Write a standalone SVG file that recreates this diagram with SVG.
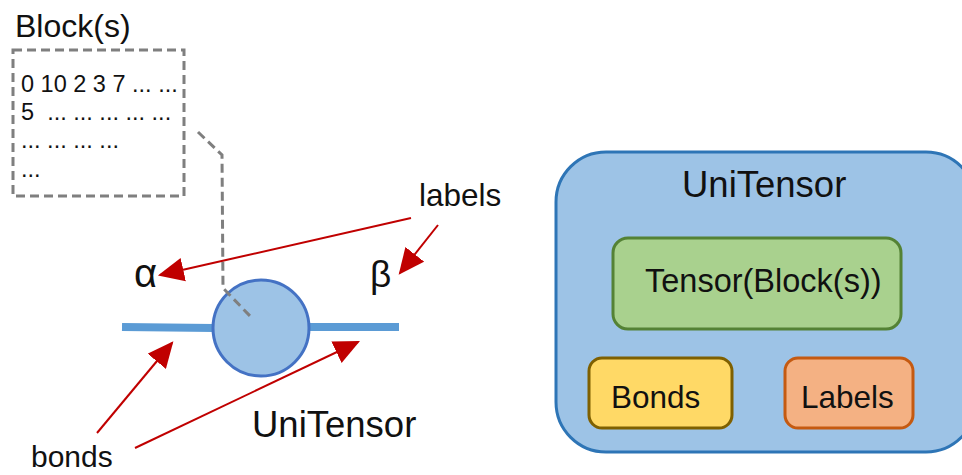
<svg xmlns="http://www.w3.org/2000/svg" width="962" height="475" viewBox="0 0 962 475">
<style>
text { font-family: "Liberation Sans", Arial, sans-serif; fill: #111; }
.t31 { font-size: 31.5px; }
.big { font-size: 36.5px; }
.blk { font-size: 23.5px; white-space: pre; }
.red { stroke: #c00000; stroke-width: 2; fill: none; }
.dash { stroke: #7f7f7f; stroke-width: 3; fill: none; stroke-dasharray: 9 5; }
.bond { stroke: #5b9bd5; stroke-width: 8; fill: none; }
</style>
<defs>
<marker id="ahL" viewBox="0 0 12 11" refX="11" refY="5.5" markerWidth="26" markerHeight="24" markerUnits="userSpaceOnUse" orient="auto">
<path d="M0,0 L12,5.5 L0,11 z" fill="#c00000"/>
</marker>
</defs>

<g id="block">
<text x="15" y="37" style="font-size:32px">Block(s)</text>
<rect x="13" y="50" width="171" height="146" class="dash"/>
<text class="blk" x="21" y="92">0 10 2 3 7 ... ...</text>
<text class="blk" x="21" y="120" xml:space="preserve">5  ... ... ... ... ...</text>
<text class="blk" x="21" y="148">... ... ... ...</text>
<text class="blk" x="21" y="177">...</text>
</g>

<g id="tensor">
<line class="bond" x1="122" y1="327" x2="214" y2="328"/>
<line class="bond" x1="308" y1="327" x2="399" y2="327"/>
<circle cx="261" cy="328" r="48" fill="#9dc3e6" stroke="#4472c4" stroke-width="3"/>
<text class="big" x="252" y="437">UniTensor</text>
</g>

<g id="legs">
<text x="134" y="287" style="font-size:40px">α</text>
<text x="370" y="287" style="font-size:37px">β</text>
<text class="t31" x="419" y="206">labels</text>
<text x="31" y="467" style="font-size:30px">bonds</text>
</g>

<g id="connectors">
<path class="dash" d="M198,132 L222,155 L223,288 L250,316"/>
<line class="red" x1="411" y1="218" x2="160" y2="275" marker-end="url(#ahL)"/>
<line class="red" x1="438" y1="225" x2="400" y2="273" marker-end="url(#ahL)"/>
<line class="red" x1="97" y1="433" x2="172" y2="343" marker-end="url(#ahL)"/>
<line class="red" x1="135" y1="448" x2="358" y2="342" marker-end="url(#ahL)"/>
</g>

<g id="unitensor-box">
<rect x="556" y="152" width="420" height="300" rx="50" ry="50" fill="#9dc3e6" stroke="#2e75b6" stroke-width="3"/>
<text class="big" x="682" y="197">UniTensor</text>
</g>
<g id="tensor-block">
<rect x="613" y="238" width="288" height="91" rx="15" ry="15" fill="#a9d18e" stroke="#548235" stroke-width="3"/>
<text x="645" y="292" style="font-size:32.5px">Tensor(Block(s))</text>
</g>
<g id="bonds-box">
<rect x="589" y="358" width="143" height="70" rx="13" ry="13" fill="#ffd966" stroke="#7f6000" stroke-width="3"/>
<text class="t31" x="611" y="408">Bonds</text>
</g>
<g id="labels-box">
<rect x="785" y="358" width="128" height="70" rx="13" ry="13" fill="#f4b183" stroke="#c55a11" stroke-width="3"/>
<text class="t31" x="801" y="408">Labels</text>
</g>
</svg>
